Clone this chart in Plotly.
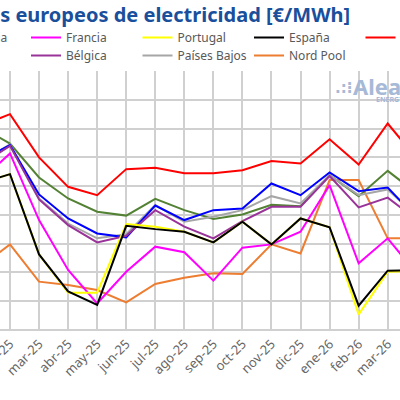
import plotly.graph_objects as go

months = ["ene-25", "feb-25", "mar-25", "abr-25", "may-25", "jun-25", "jul-25", "ago-25",
          "sep-25", "oct-25", "nov-25", "dic-25", "ene-26", "feb-26", "mar-26", "abr-26"]

alemania = [118, 128.5, 94.2, 77.5, 67.1, 64.4, 86.5, 76.4, 83.3, 84.5, 101.8, 93.7, 109.5, 96.5, 99.0, 78]
francia = [104, 122.7, 76.4, 41.7, 18.5, 40.5, 57.9, 54.0, 34.3, 57.2, 59.5, 68.3, 100.7, 46.3, 63.7, 39]
portugal = [102, 108.3, 52.5, 25.9, 25.9, 73.6, 71.8, 68.3, 60.9, 75.2, 59.5, 77.5, 71.3, 10.9, 40.5, 41]
espana = [102, 108.3, 52.5, 26.8, 17.4, 72.4, 70.1, 68.3, 60.9, 75.2, 59.5, 77.5, 71.3, 16.9, 41.2, 41.5]
italia = [142, 150.0, 120.0, 99.5, 93.7, 111.8, 112.7, 109.0, 109.0, 111.0, 117.4, 115.7, 132.6, 115.0, 143.5, 119]
reino_unido = [141, 129.6, 106.0, 91.4, 82.2, 79.5, 91.2, 83.3, 77.1, 80.3, 87.0, 86.0, 107.6, 93.0, 110.6, 95]
belgica = [115, 128.0, 90.7, 72.9, 60.9, 65.5, 83.3, 71.8, 63.7, 75.7, 85.6, 85.6, 107.0, 85.2, 92.0, 76.7]
paises_bajos = [117, 129.0, 91.4, 74.0, 63.7, 66.5, 86.8, 75.2, 78.7, 83.3, 93.0, 88.0, 107.6, 93.7, 97.7, 79]
nord_pool = [44, 59.5, 33.6, 31.2, 27.8, 19.2, 32.0, 36.3, 39.4, 38.9, 59.5, 53.2, 104.2, 104.2, 63.7, 63.7]

series = {
    "Alemania": alemania, "Francia": francia, "Portugal": portugal, "España": espana,
    "Italia": italia, "Reino Unido": reino_unido, "Bélgica": belgica,
    "Países Bajos": paises_bajos, "Nord Pool": nord_pool,
}

colors = {
    "Alemania": "#0000ff", "Francia": "#ff00ff", "Portugal": "#ffff00", "España": "#000000",
    "Italia": "#ff0000", "Reino Unido": "#548235", "Bélgica": "#993399",
    "Países Bajos": "#a6a6a6", "Nord Pool": "#ed7d31",
}

# legend grid slot (column, row)
slots = {
    "Alemania": (1, 0), "Francia": (2, 0), "Portugal": (3, 0), "España": (4, 0), "Italia": (5, 0),
    "Reino Unido": (0, 1), "Bélgica": (2, 1), "Países Bajos": (3, 1), "Nord Pool": (4, 1),
}

draw_order = ["Nord Pool", "Reino Unido", "Países Bajos", "Alemania", "Bélgica",
              "Francia", "Italia", "Portugal", "España"]

W, H = 400, 400
M_T, M_B = 71, 70
PH = H - M_T - M_B

fig = go.Figure()
layout_legends = {}
for i, name in enumerate(draw_order):
    lid = "legend" if i == 0 else f"legend{i + 1}"
    fig.add_trace(go.Scatter(
        x=months, y=series[name], name=name, mode="lines",
        line=dict(color=colors[name], width=2),
        legend=lid, showlegend=True,
    ))
    col, row = slots[name]
    text_x = 66 + (col - 2) * 111.5
    center_y = 33 + row * 18
    layout_legends[lid] = dict(
        x=(text_x - 40) / W, xanchor="left",
        y=(H - M_B - (center_y - 10)) / PH, yanchor="top",
        orientation="v", bgcolor="rgba(0,0,0,0)", borderwidth=0,
        font=dict(family="Noto Sans", size=12, color="#595959"),
    )

# x positions: feb-25 (index 1) at 10px, mar-26 (index 14) at 387.7px
ppu = (387.7 - 10) / 13
x0 = 1 - 10 / ppu
x1 = x0 + W / ppu

fig.update_layout(
    width=W, height=H,
    margin=dict(l=0, r=0, t=M_T, b=M_B, pad=0, autoexpand=False),
    paper_bgcolor="white", plot_bgcolor="white",
    xaxis=dict(type="category", range=[x0, x1], showgrid=True, gridcolor="#d0d0d0",
               gridwidth=1.5, tickangle=-45, ticks="", ticklabelstandoff=3,
               tickfont=dict(family="Noto Sans", size=13, color="#666666"),
               showline=False, zeroline=False),
    yaxis=dict(range=[0, 180], dtick=20, showgrid=True, gridcolor="#d0d0d0", gridwidth=1.5,
               zeroline=True, zerolinecolor="#d0d0d0", zerolinewidth=1.5,
               tickfont=dict(family="Noto Sans", size=13, color="#666666")),
    annotations=[
        dict(text="<b>Precios de mercados europeos de electricidad [€/MWh]</b>",
             xref="paper", yref="paper", x=352 / W, xanchor="right",
             y=(H - M_B - 14) / PH, yanchor="middle", showarrow=False,
             font=dict(family="Noto Sans", size=20, color="#1a4f9c")),
        dict(text="<b>.:⁝</b>", xref="paper", yref="paper", x=333 / W, xanchor="left",
             y=(H - M_B - 88) / PH, yanchor="middle", showarrow=False,
             font=dict(family="DejaVu Sans", size=15, color="#a6b9d6")),
        dict(text="<b>AleaSoft</b>", xref="paper", yref="paper", x=351 / W, xanchor="left",
             y=(H - M_B - 86) / PH, yanchor="middle", showarrow=False,
             font=dict(family="Noto Sans", size=22, color="#a6b9d6")),
        dict(text="<b>ENERGY FORECASTING</b>", xref="paper", yref="paper", x=374 / W,
             xanchor="left", y=(H - M_B - 99) / PH, yanchor="middle", showarrow=False,
             font=dict(family="Noto Sans", size=7, color="#a6b9d6")),
    ],
    **layout_legends,
)

fig.write_html("out.html")
